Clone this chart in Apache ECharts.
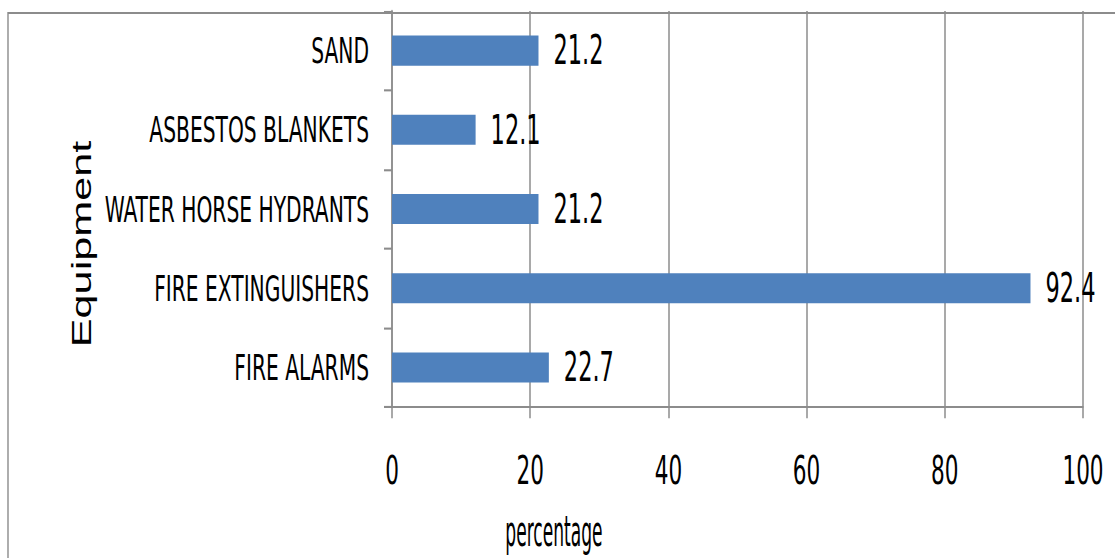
<!DOCTYPE html>
<html>
<head>
<meta charset="utf-8">
<script src="https://cdn.jsdelivr.net/npm/echarts@6/dist/echarts.min.js"></script>
<style>
html { overflow: hidden; }
html, body { margin: 0; padding: 0; background: #fff; width: 1115px; height: 558px; }
/* the reference picture is stretched vertically, so the chart is drawn flat and scaled */
#echarts { width: 1115px; height: 349px; transform: scaleY(1.599); transform-origin: 0 0; }
</style>
</head>
<body>
<div id="echarts"></div>
<script>
var categories = ['FIRE ALARMS', 'FIRE EXTINGUISHERS', 'WATER HORSE HYDRANTS', 'ASBESTOS BLANKETS', 'SAND'];
var percentages = [22.7, 92.4, 21.2, 12.1, 21.2];
var xTicks = [0, 20, 40, 60, 80, 100];

var k = 1.599;
var narrow = '"Liberation Sans Narrow", "DejaVu Sans Condensed", "Liberation Sans", sans-serif';
var lineGray = '#8c8c8c';

window.onload = function() {
	baidu_echarts();
};

function baidu_echarts(){
	var dom = document.getElementById("echarts");
	var myChart = echarts.init(dom, null, {renderer: 'svg'});
	var option = null;
	option = {
	    animation: false,
	    backgroundColor: '#fff',
	    grid: {
	        left: 392,
	        right: 32,
	        top: 11 / k,
	        bottom: 151 / k
	    },
	    graphic: [
	        {
	            type: 'rect',
	            z: -1,
	            shape: {x: 8, y: 13 / k, width: 1300, height: 600},
	            style: {fill: 'none', stroke: lineGray, lineWidth: 1.4}
	        },
	        {
	            type: 'text',
	            x: 82,
	            y: 244 / k,
	            rotation: Math.PI / 2,
	            style: {
	                text: 'Equipment',
	                fontFamily: '"Liberation Sans", sans-serif',
	                fontSize: 27,
	                fill: '#000',
	                textAlign: 'center',
	                textVerticalAlign: 'middle'
	            }
	        },
	        {
	            // the reference clips the descenders; kept just inside here
	            type: 'text',
	            x: 554,
	            y: 531 / k,
	            scaleY: 1.4,
	            style: {
	                text: 'percentage',
	                fontFamily: narrow,
	                fontSize: 19,
	                fill: '#000',
	                textAlign: 'center',
	                textVerticalAlign: 'middle'
	            }
	        }
	    ],
	    xAxis: {
	        type: 'value',
	        min: xTicks[0],
	        max: xTicks[xTicks.length - 1],
	        interval: xTicks[1] - xTicks[0],
	        axisLine: {show: true, lineStyle: {color: lineGray, width: 1.3}},
	        axisTick: {show: true, length: 7, lineStyle: {color: lineGray, width: 1.5}},
	        splitLine: {show: true, lineStyle: {color: lineGray, width: 1.5}},
	        axisLabel: {
	            margin: 28,
	            color: '#000',
	            fontFamily: narrow,
	            fontSize: 24
	        }
	    },
	    yAxis: {
	        type: 'category',
	        data: categories,
	        axisLine: {show: true, lineStyle: {color: lineGray, width: 1.5}},
	        axisTick: {show: true, length: 8, lineStyle: {color: lineGray, width: 1.3}},
	        splitLine: {show: false},
	        axisLabel: {
	            margin: 23,
	            color: '#000',
	            fontFamily: narrow,
	            fontSize: 22.5
	        }
	    },
	    series: [
	        {
	            type: 'bar',
	            data: percentages,
	            barWidth: '38%',
	            itemStyle: {color: '#4f81bd'},
	            label: {
	                show: true,
	                position: 'right',
	                distance: 15,
	                color: '#000',
	                fontFamily: narrow,
	                fontSize: 25
	            }
	        }
	    ]
	};
	if (option && typeof option === "object") {
	    myChart.setOption(option, true);
	}
}
</script>
</body>
</html>
